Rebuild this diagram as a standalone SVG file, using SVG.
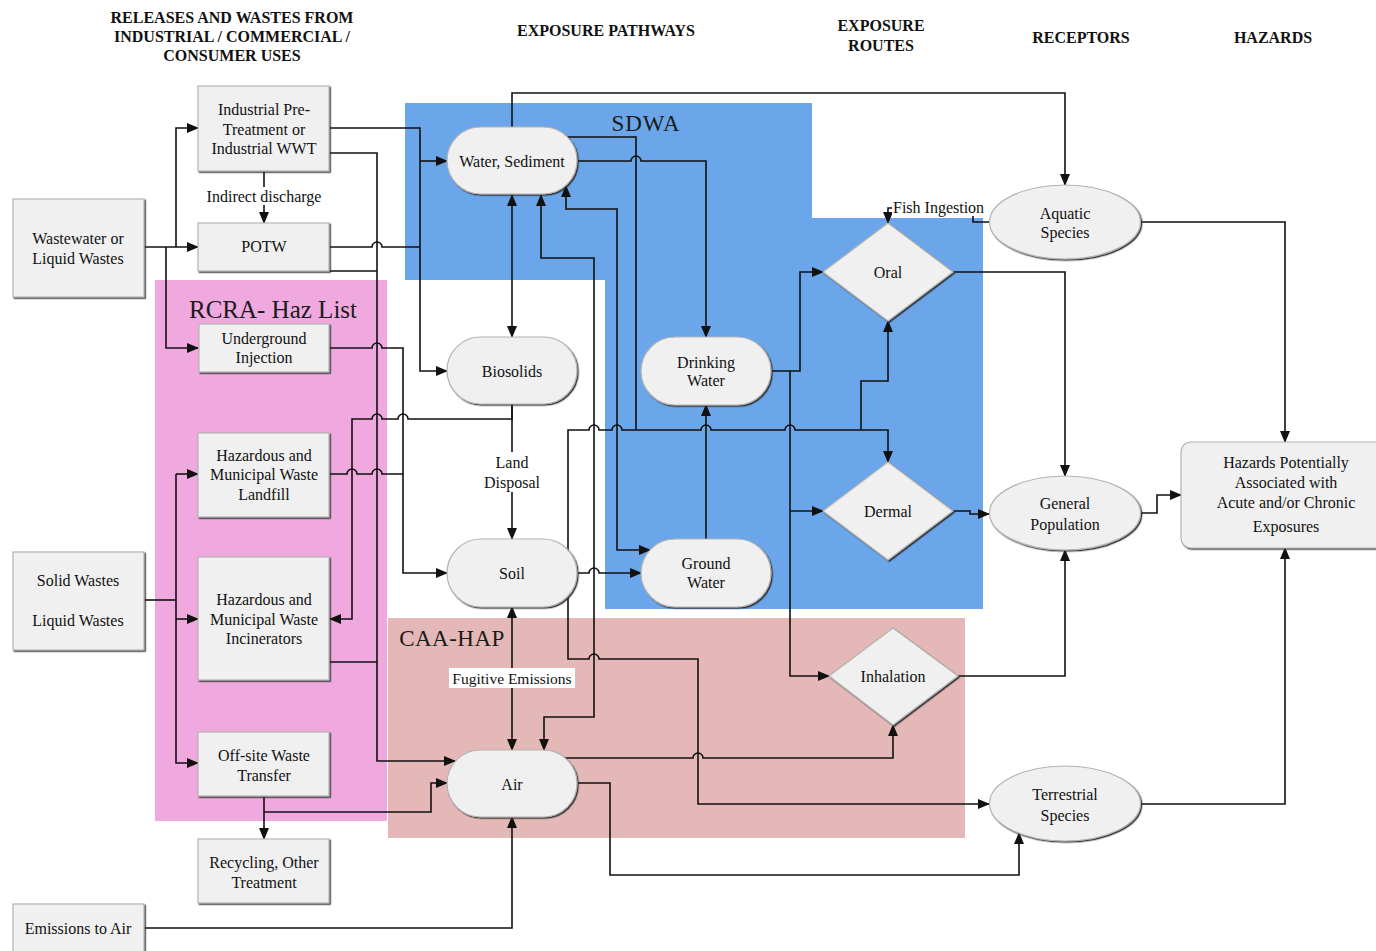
<svg xmlns="http://www.w3.org/2000/svg" width="1376" height="951" viewBox="0 0 1376 951">
<style>
.t{font-family:"Liberation Serif","Times New Roman",serif;font-size:16px;fill:#111;text-anchor:middle}
.hd{font-weight:bold;font-size:16px}
.big{font-size:24px;fill:#1a1a1a}
.c{fill:none;stroke:#111;stroke-width:1.6;stroke-linejoin:miter}
.a{marker-end:url(#ah)}
.b{marker-start:url(#as);marker-end:url(#ah)}
.n{fill:#f0f0f0;stroke:#b4b4b4;stroke-width:1.2;filter:url(#sh)}
.lbg{fill:#fff}
</style>
<defs>
<marker id="ah" markerUnits="userSpaceOnUse" markerWidth="12" markerHeight="10" viewBox="0 0 12 10" refX="11" refY="5" orient="auto"><path d="M0,0 L12,5 L0,10 z" fill="#111"/></marker>
<marker id="as" markerUnits="userSpaceOnUse" markerWidth="12" markerHeight="10" viewBox="0 0 12 10" refX="11" refY="5" orient="auto-start-reverse"><path d="M0,0 L12,5 L0,10 z" fill="#111"/></marker>
<filter id="sh" x="-5%" y="-5%" width="115%" height="120%"><feDropShadow dx="1.3" dy="1.3" stdDeviation="0.5" flood-color="#222" flood-opacity="0.9"/></filter>
</defs>
<rect width="1376" height="951" fill="#fff"/>

<g id="regions">
<polygon points="405,103 812,103 812,218 983,218 983,609 605,609 605,280 405,280" fill="#6aa6e9"/>
<rect x="155" y="280" width="232" height="541" fill="#efa9df"/>
<rect x="388" y="618" width="577" height="220" fill="#e4b8b6"/>
<text class="t big" x="646" y="131" style="font-size:23px;letter-spacing:1px">SDWA</text>
<text class="t big" x="273" y="318" style="font-size:25px">RCRA- Haz List</text>
<text class="t big" x="452" y="646" style="font-size:23px;letter-spacing:0.5px">CAA-HAP</text>
</g>

<g id="headers">
<text class="t hd" x="232" y="23">RELEASES AND WASTES FROM</text>
<text class="t hd" x="232" y="42">INDUSTRIAL / COMMERCIAL /</text>
<text class="t hd" x="232" y="61">CONSUMER USES</text>
<text class="t hd" x="606" y="36">EXPOSURE PATHWAYS</text>
<text class="t hd" x="881" y="31">EXPOSURE</text>
<text class="t hd" x="881" y="51">ROUTES</text>
<text class="t hd" x="1081" y="43">RECEPTORS</text>
<text class="t hd" x="1273" y="43">HAZARDS</text>
</g>

<g id="connectors">
<path class="c a" d="M144,247 H198"/>
<path class="c a" d="M176,247 V128 H198"/>
<path class="c a" d="M166,247 V348 H198"/>
<path class="c a" d="M264,171 V223"/>
<path class="c a" d="M329,128 H420 V371 H447"/>
<path class="c a" d="M420,161 H447"/>
<path class="c" d="M329,247 H372 a5,5 0 0 1 10,0 H420"/>
<path class="c a" d="M329,153 H377 V761 H455"/>
<path class="c" d="M329,271 H377"/>
<path class="c" d="M329,662 H377"/>
<path class="c a" d="M329,348 H372 a5,5 0 0 1 10,0 H403 V573 H447"/>
<path class="c" d="M329,474 H347 a5,5 0 0 1 10,0 H372 a5,5 0 0 1 10,0 H403"/>
<path class="c a" d="M512,404 V419 H408 a5,5 0 0 0 -10,0 H382 a5,5 0 0 0 -10,0 H352 V619 H330"/>
<path class="c a" d="M512,404 V539"/>
<path class="c b" d="M512,195 V337"/>
<path class="c a" d="M512,127 V93 H1065 V185"/>
<path class="c" d="M567,137 H636 V430"/>
<path class="c a" d="M577,161 H631 a5,5 0 0 1 10,0 H706 V337"/>
<path class="c b" d="M544,750 V717 H594 V258 H541 V195"/>
<path class="c b" d="M650,550 H617 V209 H566 V186"/>
<path class="c a" d="M577,573 H589 a5,5 0 0 1 10,0 H641"/>
<path class="c a" d="M568,550 V430 H589 a5,5 0 0 1 10,0 H612 a5,5 0 0 1 10,0 H701 a5,5 0 0 1 10,0 H785 a5,5 0 0 1 10,0 H888 V462"/>
<path class="c a" d="M861,430 V381 H888 V321"/>
<path class="c a" d="M706,539 V405"/>
<path class="c a" d="M771,371 H800 V272 H823"/>
<path class="c a" d="M790,371 V676 H829"/>
<path class="c a" d="M790,511 H823"/>
<path class="c a" d="M568,596 V659 H589 a5,5 0 0 1 10,0 H698 V804 H989"/>
<path class="c a" d="M565,758 H693 a5,5 0 0 1 10,0 H893 V725"/>
<path class="c a" d="M577,783 H610 V875 H1019 V833"/>
<path class="c b" d="M512,607 V750"/>
<path class="c a" d="M264,796 V839"/>
<path class="c a" d="M264,812 H431 V783 H447"/>
<path class="c a" d="M144,928 H512 V817"/>
<path class="c" d="M144,600 H176"/>
<path class="c a" d="M176,474 H198"/>
<path class="c a" d="M176,474 V763 H198"/>
<path class="c a" d="M176,619 H198"/>
<path class="c a" d="M953,272 H1065 V476"/>
<path class="c a" d="M953,511 H970 V514 H989"/>
<path class="c a" d="M958,676 H1065 V550"/>
<path class="c a" d="M989,222 H973 V208 H888 V223"/>
<path class="c a" d="M1140,222 H1285 V442"/>
<path class="c a" d="M1140,513 H1157 V495 H1181"/>
<path class="c a" d="M1140,804 H1285 V548"/>
</g>

<g id="labels">
<rect class="lbg" x="205" y="187" width="118" height="18"/>
<text class="t" x="264" y="201.5">Indirect discharge</text>
<rect class="lbg" x="482" y="452" width="60" height="40"/>
<text class="t" x="512" y="468">Land</text>
<text class="t" x="512" y="487.5">Disposal</text>
<rect class="lbg" x="449" y="668" width="126" height="20"/>
<text class="t" x="512" y="683.5" style="font-size:15.5px">Fugitive Emissions</text>
<rect class="lbg" x="892" y="199" width="94" height="17"/>
<text class="t" x="893" y="212.5" style="text-anchor:start">Fish Ingestion</text>
</g>

<g id="n-wastewater"><rect class="n" x="13" y="199" width="131" height="98"/><text class="t" x="78" y="243.5">Wastewater or</text><text class="t" x="78" y="263.5">Liquid Wastes</text></g>
<g id="n-industrial"><rect class="n" x="198" y="86" width="131" height="85"/><text class="t" x="264" y="114.5">Industrial Pre-</text><text class="t" x="264" y="134.5">Treatment or</text><text class="t" x="264" y="153.5">Industrial WWT</text></g>
<g id="n-potw"><rect class="n" x="198" y="223" width="131" height="48"/><text class="t" x="264" y="251.5">POTW</text></g>
<g id="n-underground"><rect class="n" x="199" y="324" width="130" height="48"/><text class="t" x="264" y="343.5">Underground</text><text class="t" x="264" y="362.5">Injection</text></g>
<g id="n-landfill"><rect class="n" x="198" y="433" width="131" height="84"/><text class="t" x="264" y="460.5">Hazardous and</text><text class="t" x="264" y="479.5">Municipal Waste</text><text class="t" x="264" y="499.5">Landfill</text></g>
<g id="n-incinerators"><rect class="n" x="198" y="557" width="131" height="123"/><text class="t" x="264" y="604.5">Hazardous and</text><text class="t" x="264" y="624.5">Municipal Waste</text><text class="t" x="264" y="643.5">Incinerators</text></g>
<g id="n-offsite"><rect class="n" x="198" y="732" width="131" height="64"/><text class="t" x="264" y="760.5">Off-site Waste</text><text class="t" x="264" y="780.5">Transfer</text></g>
<g id="n-recycling"><rect class="n" x="198" y="839" width="131" height="64"/><text class="t" x="264" y="867.5">Recycling, Other</text><text class="t" x="264" y="887.5">Treatment</text></g>
<g id="n-solid"><rect class="n" x="13" y="552" width="131" height="98"/><text class="t" x="78" y="585.5">Solid Wastes</text><text class="t" x="78" y="625.5">Liquid Wastes</text></g>
<g id="n-emissions"><rect class="n" x="13" y="904" width="131" height="60"/><text class="t" x="78" y="933.5">Emissions to Air</text></g>

<g id="n-water"><rect class="n" x="447" y="127" width="130" height="67" rx="33.5"/><text class="t" x="512" y="166.5">Water, Sediment</text></g>
<g id="n-biosolids"><rect class="n" x="447" y="337" width="130" height="67" rx="33.5"/><text class="t" x="512" y="376.5">Biosolids</text></g>
<g id="n-soil"><rect class="n" x="447" y="539" width="130" height="68" rx="34"/><text class="t" x="512" y="578.5">Soil</text></g>
<g id="n-air"><rect class="n" x="447" y="750" width="130" height="67" rx="33.5"/><text class="t" x="512" y="789.5">Air</text></g>
<g id="n-drinking"><rect class="n" x="641" y="337" width="130" height="68" rx="34"/><text class="t" x="706" y="367.5">Drinking</text><text class="t" x="706" y="385.5">Water</text></g>
<g id="n-ground"><rect class="n" x="641" y="539" width="130" height="68" rx="34"/><text class="t" x="706" y="568.5">Ground</text><text class="t" x="706" y="587.5">Water</text></g>

<g id="n-oral"><polygon class="n" points="888,223 953,272 888,321 823,272"/><text class="t" x="888" y="277.5">Oral</text></g>
<g id="n-dermal"><polygon class="n" points="888,462 953,511 888,560 823,511"/><text class="t" x="888" y="516.5">Dermal</text></g>
<g id="n-inhalation"><polygon class="n" points="893,628 958,676 893,725 829,676"/><text class="t" x="893" y="681.5">Inhalation</text></g>

<g id="n-aquatic"><ellipse class="n" cx="1065" cy="222" rx="75.5" ry="37"/><text class="t" x="1065" y="218.5">Aquatic</text><text class="t" x="1065" y="237.5">Species</text></g>
<g id="n-general"><ellipse class="n" cx="1065" cy="513" rx="75.5" ry="37"/><text class="t" x="1065" y="508.5">General</text><text class="t" x="1065" y="529.5">Population</text></g>
<g id="n-terrestrial"><ellipse class="n" cx="1065" cy="803.5" rx="75.5" ry="37.5"/><text class="t" x="1065" y="799.5">Terrestrial</text><text class="t" x="1065" y="820.5">Species</text></g>
<g id="n-hazards"><rect class="n" x="1181" y="442" width="210" height="106" rx="10"/><text class="t" x="1286" y="467.5">Hazards Potentially</text><text class="t" x="1286" y="487.5">Associated with</text><text class="t" x="1286" y="507.5">Acute and/or Chronic</text><text class="t" x="1286" y="531.5">Exposures</text></g>
</svg>
